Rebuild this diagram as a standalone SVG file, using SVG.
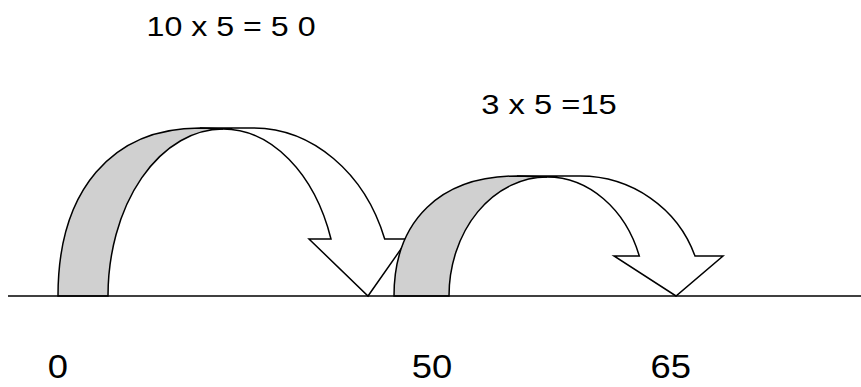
<svg xmlns="http://www.w3.org/2000/svg" width="861" height="387" viewBox="0 0 861 387">
  <style>
    .lbl { font-family: "Liberation Sans", Arial, sans-serif; fill: #000; }
    .band { fill: #d0d0d0; stroke: #000; stroke-width: 1.5; stroke-linejoin: miter; }
    .head { fill: #fff; stroke: #000; stroke-width: 1.5; stroke-linejoin: miter; }
    .axis { stroke: #000; stroke-width: 1.5; fill: none; }
  </style>
  <rect width="861" height="387" fill="#fff"/>

  <g id="connectors">
    <g id="jump1">
      <path class="head" d="M 200,128 L 253,128 A 140 168 0 0 1 384.7,239 L 408,239 L 368,296 L 309,239 L 331,239 A 115 167 0 0 0 223,129 Z"/>
      <path class="band" d="M 58,296 C 58,190 112,128 200,128 L 223,129 A 115 167 0 0 0 108,296 Z"/>
    </g>
    <g id="jump2">
      <path class="head" d="M 517,176 L 580,176 A 122 120 0 0 1 695,256 L 723,256 L 676,296 L 614,256 L 639.3,256 A 98 119 0 0 0 547,177 Z"/>
      <path class="band" d="M 394,296 C 394,220 441,176 517,176 L 547,177 A 98 119 0 0 0 449,296 Z"/>
    </g>
  </g>

  <g id="number-line">
    <line class="axis" x1="8" y1="296" x2="861" y2="296"/>
  </g>

  <g id="label-top1">
    <text class="lbl" font-size="28.5" transform="translate(146.5,36) scale(1.13,1)">10 x 5 = 5 0</text>
  </g>
  <g id="label-top2">
    <text class="lbl" font-size="27.5" transform="translate(481.3,114) scale(1.19,1)">3 x 5 =15</text>
  </g>
  <g id="tick-0">
    <text class="lbl" font-size="34" transform="translate(47.8,378) scale(1.07,1)">0</text>
  </g>
  <g id="tick-50">
    <text class="lbl" font-size="34" transform="translate(411.7,378) scale(1.07,1)">50</text>
  </g>
  <g id="tick-65">
    <text class="lbl" font-size="34" transform="translate(650.6,378) scale(1.07,1)">65</text>
  </g>
</svg>
